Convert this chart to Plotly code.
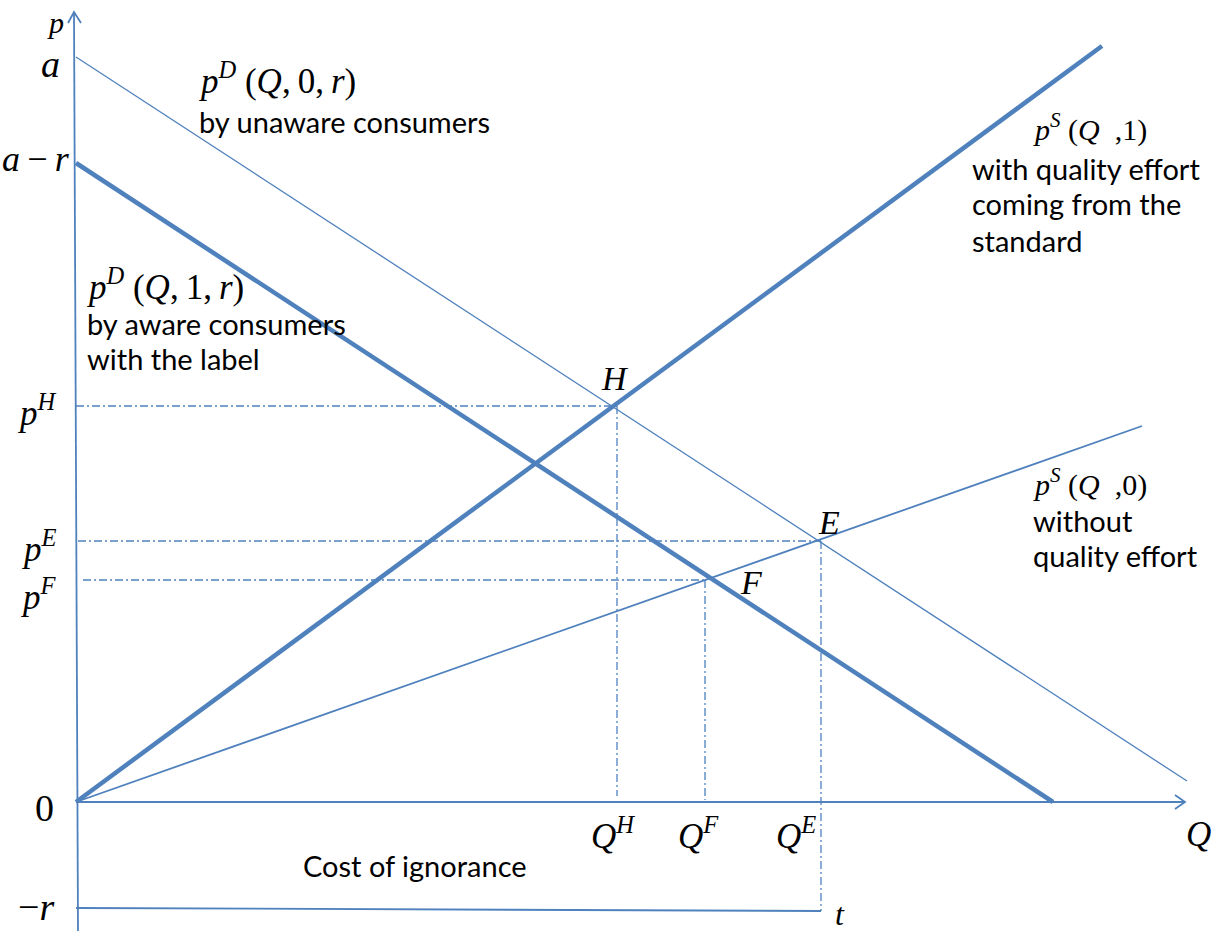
import plotly.graph_objects as go

BLUE = "#4F81BD"

# ---- data (Q, p); origin at (0, 0) ----
# axes
p_axis_Q = [-2, 2]
p_axis_p = [790, -129]
q_axis_Q = [0, 1109]
q_axis_p = [0, 0]
p_arrow_Q = [-8, -2, 5]
p_arrow_p = [779, 790, 779]
q_arrow_Q = [1099, 1109, 1099]
q_arrow_p = [7, 0, -7]

# demand / supply curves (end points)
demand_unaware_Q = [0, 1111]
demand_unaware_p = [745, 21]
demand_aware_Q = [0, 977]
demand_aware_p = [639, 0]
supply_effort_Q = [0, 1026]
supply_effort_p = [0, 756]
supply_none_Q = [0, 1066]
supply_none_p = [0, 376]

# equilibria
H = (541, 396)
E = (745, 261)
F = (629, 222)

# cost of ignorance line (-r) and its end
cost_Q = [0, 745]
cost_p = [-106, -109]

fig = go.Figure()


def line(xs, ys, width, dash=None):
    fig.add_trace(go.Scatter(
        x=xs, y=ys, mode="lines",
        line=dict(color=BLUE, width=width, dash=dash),
        hoverinfo="skip", showlegend=False))


DD = "8px,3px,2px,3px"
# dash-dot guide lines
line([0, H[0]], [H[1], H[1]], 1.3, DD)
line([H[0], H[0]], [H[1], 6], 1.3, DD)
line([2, E[0]], [E[1], E[1]], 1.3, DD)
line([E[0], E[0]], [E[1], cost_p[1]], 1.3, DD)
line([7, F[0]], [F[1], F[1]], 1.3, DD)
line([F[0], F[0]], [F[1], 2], 1.3, DD)

# axes
line(p_axis_Q, p_axis_p, 1.8)
line(q_axis_Q, q_axis_p, 1.8)
line(p_arrow_Q, p_arrow_p, 1.8)
line(q_arrow_Q, q_arrow_p, 1.8)
line(cost_Q, cost_p, 1.8)

# curves
line(demand_unaware_Q, demand_unaware_p, 1.3)
line(supply_none_Q, supply_none_p, 1.8)
line(demand_aware_Q, demand_aware_p, 4.5)
line(supply_effort_Q, supply_effort_p, 4.5)

SERIF = "Liberation Serif"
SANS = "Lato"
TS = 29
annotations = []


def ann(x, y, text, size, family=SERIF, xanchor="center", yanchor="middle"):
    annotations.append(dict(
        x=x, y=y, xref="x", yref="y", text=text, showarrow=False,
        font=dict(family=family, size=size, color="black"),
        xanchor=xanchor, yanchor=yanchor, align="left"))


TH = "\u2009"
ann(-21, 780, "<i>p</i>", 30)
ann(-26, 738, "<i>a</i>", 38)
ann(-4, 643, "<i>a</i>" + TH + "\u2212" + TH + "<i>r</i>", 36, xanchor="right")
ann(-20, -6, "0", 38, xanchor="right")
ann(-20, -105, "\u2212<i>r</i>", 38, xanchor="right")

ann(-17, 392, "<i>p</i><sup><i>H</i></sup>", 35, xanchor="right")
ann(-17, 256, "<i>p</i><sup><i>E</i></sup>", 35, xanchor="right")
ann(-17, 208, "<i>p</i><sup><i>F</i></sup>", 35, xanchor="right")

ann(537, -31, "<i>Q</i><sup><i>H</i></sup>", 35)
ann(622, -31, "<i>Q</i><sup><i>F</i></sup>", 35)
ann(720, -31, "<i>Q</i><sup><i>E</i></sup>", 35)
ann(1122, -32, "<i>Q</i>", 35)
ann(764, -112, "<i>t</i>", 32)

ann(539, 424, "<i>H</i>", 34)
ann(753, 280, "<i>E</i>", 34)
ann(675, 220, "<i>F</i>", 34)

ann(120, 724, "<i>p</i><sup><i>D</i></sup> (<i>Q</i>," + TH + "0," + TH + "<i>r</i>)", 35, xanchor="left")
ann(121, 681, "by unaware consumers", TS, SANS, xanchor="left")
ann(8, 518, "<i>p</i><sup><i>D</i></sup> (<i>Q</i>," + TH + "1," + TH + "<i>r</i>)", 35, xanchor="left")
ann(9, 479, "by aware consumers", TS, SANS, xanchor="left")
ann(9, 444, "with the label", TS, SANS, xanchor="left")

ann(955, 675, "<i>p</i><sup><i>S</i></sup> (<i>Q</i>  ,1)", 30, xanchor="left")
ann(894, 634, "with quality effort", TS, SANS, xanchor="left")
ann(894, 599, "coming from the", TS, SANS, xanchor="left")
ann(894, 562, "standard", TS, SANS, xanchor="left")

ann(955, 320, "<i>p</i><sup><i>S</i></sup> (<i>Q</i>  ,0)", 30, xanchor="left")
ann(955, 282, "without", TS, SANS, xanchor="left")
ann(955, 247, "quality effort", TS, SANS, xanchor="left")

ann(339, -63, "Cost of ignorance", TS, SANS)

fig.update_layout(
    width=1219, height=931,
    margin=dict(l=0, r=0, t=0, b=0),
    paper_bgcolor="white", plot_bgcolor="white",
    xaxis=dict(range=[-76, 1143], visible=False, fixedrange=True),
    yaxis=dict(range=[-129, 802], visible=False, fixedrange=True),
    annotations=annotations,
    showlegend=False,
)

fig.write_html("out.html", config={"displayModeBar": False},
               post_script="document.body.style.margin='0';")
